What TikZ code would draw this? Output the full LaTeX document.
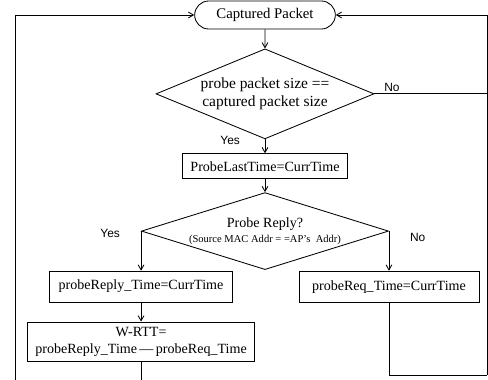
\documentclass[tikz,border=0pt]{standalone}
\usepackage{fontspec}
\setmainfont{Liberation Serif}
\newfontfamily\yesnofont{Liberation Sans}
\usepackage{tikz}
\usetikzlibrary{positioning}
\usetikzlibrary{arrows}
\usetikzlibrary{shapes.geometric}
\usetikzlibrary{shapes.misc}

\begin{document}
\begin{tikzpicture}[
            x = 0.025cm, y = -0.025cm, % one unit is one pixel of the sketch
            > = angle 60, % arrow head style
            semithick, % line style
            font = \fontsize{10}{12}\selectfont
        ]

        \tikzstyle{startstop}=[
            draw,
            rounded rectangle,
            minimum width = 3.75cm,
            minimum height = 0.7cm
        ]
        \tikzstyle{process}=[
            draw,
            rectangle,
            align = center
        ]
        \tikzstyle{decision}=[
            draw,
            diamond,
            inner sep = 0pt,
            align = center
        ]
        \tikzstyle{answer}=[
            font = \yesnofont\fontsize{8.5}{10}\selectfont
        ]

        \useasboundingbox (0,0) rectangle (488,380);

	% start
        \node[startstop, font = \fontsize{10.5}{12}\selectfont] (CP) at (265,15) {Captured Packet};

	% size check
        \node[decision, shape aspect = 2.42, minimum width = 5.45cm, minimum height = 2.25cm,
              font = \fontsize{11}{13}\selectfont] (SZ) [below = 0.475cm of CP]
            {probe packet size ==\\captured packet size};
        \node[process, minimum width = 4.125cm, minimum height = 0.625cm] (PLT) [below = 0.35cm of SZ]
            {ProbeLastTime=CurrTime};

        \path[->] (CP) edge (SZ);
        \draw[->] (SZ) -- node[answer, pos = 0.1, left = 0.5cm] {Yes} (PLT);

	% reply or request
        \node[decision, shape aspect = 3.2, minimum width = 6.175cm, minimum height = 1.925cm] (PR) [below = 0.325cm of PLT]
            {Probe Reply?\\[-1pt]{\fontsize{7.5}{8}\selectfont(Source MAC Addr = =AP's\ \ Addr)}};
        \node[process, minimum width = 4.575cm, minimum height = 0.775cm] (RPT) [below = 0.99cm of PR.west]
            {probeReply\_Time=CurrTime};
        \node[process, minimum width = 4.5cm, minimum height = 0.775cm] (RQT) [below = 0.99cm of PR.east]
            {probeReq\_Time=CurrTime};

        \path[->] (PLT) edge (PR);
        \draw[->] (PR.west) -- node[answer, pos = 0, left = 0.4cm, yshift = -0.05cm] {Yes} (RPT.north);
        \draw[->] (PR.east) -- node[answer, pos = 0, right = 0.4cm, yshift = -0.15cm] {No} (RQT.north);

	% round trip time
        \node[process, minimum width = 5.675cm, minimum height = 0.975cm] (WRTT) [below = 0.475cm of RPT]
            {W-RTT=\\probeReply\_Time\,—\,probeReq\_Time};

        \path[->] (RPT) edge (WRTT);

	% loops back
        \coordinate (LB) at (15,380);
        \coordinate (RB) at (487,375);
        \coordinate (WB) at (WRTT.south |- LB);

        \draw (WRTT) -- (WB);
        \draw[->] (LB) |- (CP);
        \draw (SZ.east) -- node[answer, pos = 0, anchor = south west, inner sep = 1pt, xshift = 0.2cm] {No} (SZ.east -| RB);
        \draw (RQT) |- (RB);
        \draw[->] (RB) |- (CP);

\end{tikzpicture}
\end{document}
